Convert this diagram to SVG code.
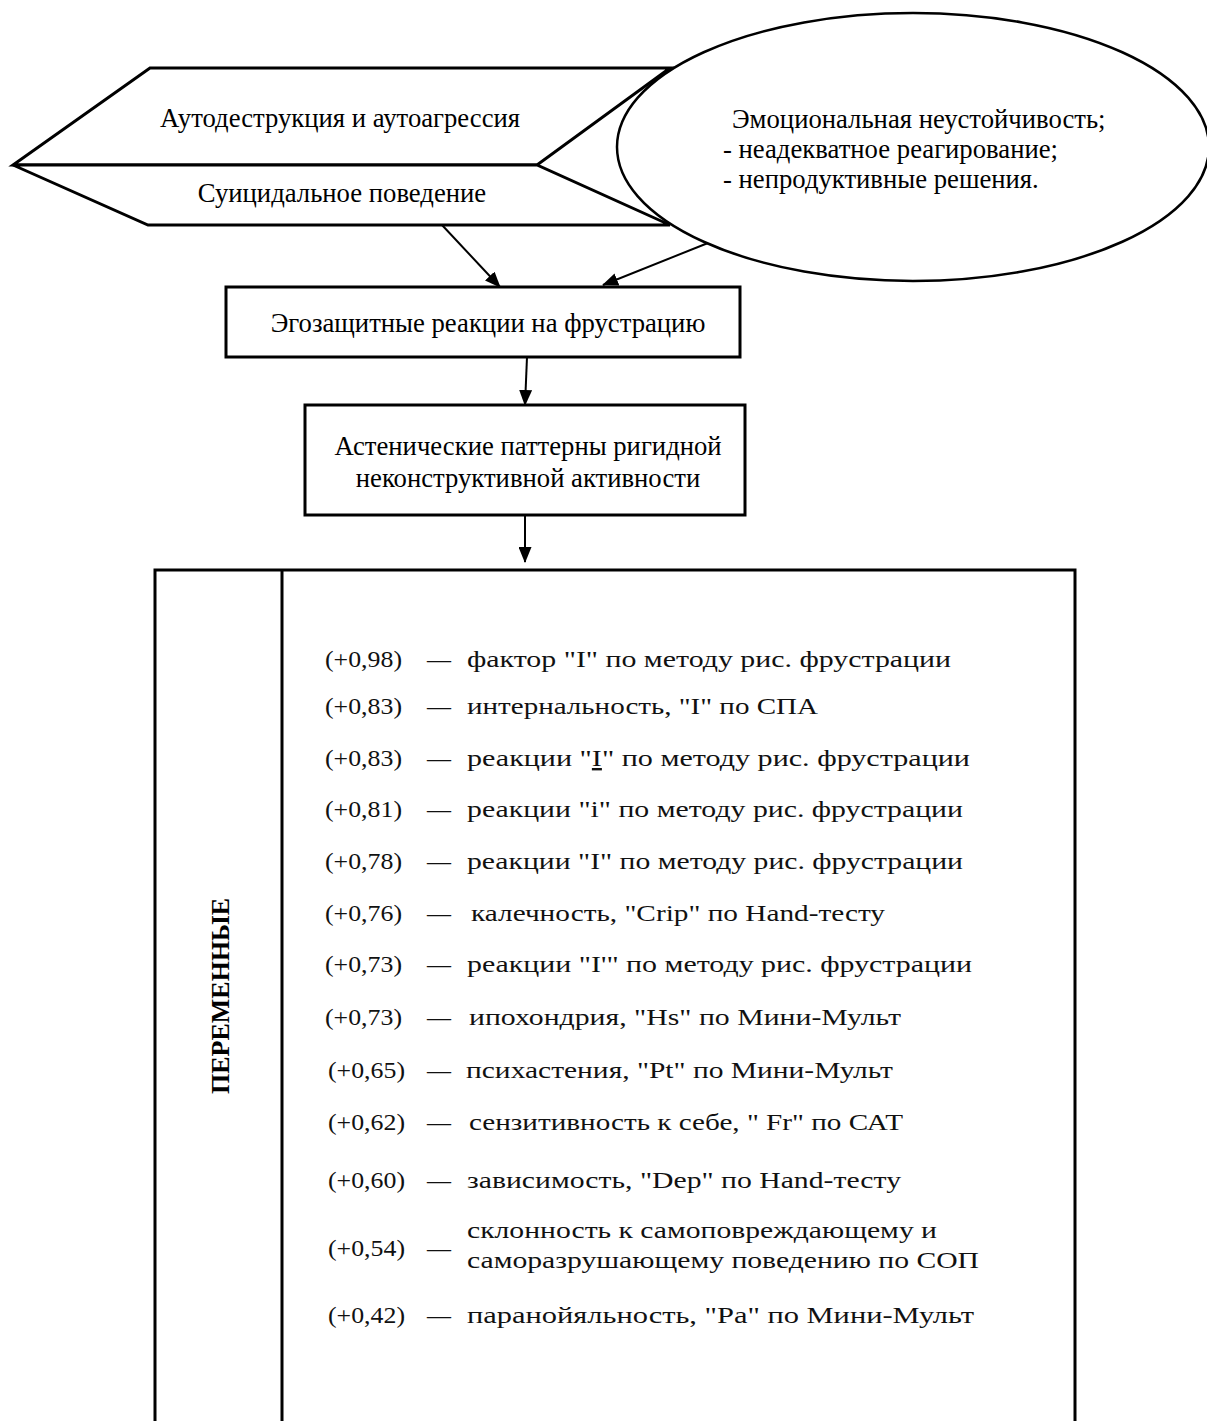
<svg xmlns="http://www.w3.org/2000/svg" width="1207" height="1421" viewBox="0 0 1207 1421">
<defs>
<marker id="ah" markerWidth="16" markerHeight="13" refX="15" refY="6.5" orient="auto" markerUnits="userSpaceOnUse"><path d="M0,0 L16,6.5 L0,13 z" fill="#000"/></marker>
</defs>
<style>
.shape{fill:#fff;stroke:#000;stroke-width:3;stroke-linejoin:miter}
.ell{fill:#fff;stroke:#000;stroke-width:2.5}
.t{font-family:"Liberation Serif","Times New Roman",serif;font-size:26.7px;fill:#000}
.c{text-anchor:middle}
.l{font-family:"Liberation Serif","Times New Roman",serif;font-size:24px;fill:#111}
.conn{stroke:#000;stroke-width:2;fill:none}
.v{font-family:"Liberation Serif","Times New Roman",serif;font-size:26px;font-weight:bold;fill:#000;text-anchor:middle}
</style>
<rect width="1207" height="1421" fill="#fff"/>
<g id="node-autodestr">
<polygon class="shape" points="150,68 670,68 537,165 13,165"/>
<text class="t c" x="340" y="127">Аутодеструкция и аутоагрессия</text>
</g>
<g id="node-suicide">
<polygon class="shape" points="13,165 537,165 670,225 148,225"/>
<text class="t c" x="342" y="202">Суицидальное поведение</text>
</g>
<g id="node-emotion">
<ellipse class="ell" cx="913" cy="147" rx="296" ry="134"/>
<text class="t" x="732" y="128">Эмоциональная неустойчивость;</text>
<text class="t" x="723" y="158">- неадекватное реагирование;</text>
<text class="t" x="723" y="188">- непродуктивные решения.</text>
</g>
<g id="connectors">
<path class="conn" d="M442,225 L500,287" marker-end="url(#ah)"/>
<path class="conn" d="M708,243 L603,285" marker-end="url(#ah)"/>
<path class="conn" d="M527,357 L525,405" marker-end="url(#ah)"/>
<path class="conn" d="M525,515 L525,562" marker-end="url(#ah)"/>
</g>
<g id="node-ego">
<rect class="shape" x="226" y="287" width="514" height="70"/>
<text class="t c" x="488" y="332">Эгозащитные реакции на фрустрацию</text>
</g>
<g id="node-asthenic">
<rect class="shape" x="305" y="405" width="440" height="110"/>
<text class="t c" x="528" y="455">Астенические паттерны ригидной</text>
<text class="t c" x="528" y="487">неконструктивной активности</text>
</g>
<g id="node-variables">
<rect class="shape" x="155" y="570" width="920" height="880"/>
<line x1="282" y1="570" x2="282" y2="1450" stroke="#000" stroke-width="3"/>
<text class="v" transform="translate(229,996) rotate(-90)">ПЕРЕМЕННЫЕ</text>
<g class="l">
<text x="325" y="667" textLength="77" lengthAdjust="spacingAndGlyphs">(+0,98)</text><text x="427" y="667">—</text><text x="467" y="667" textLength="484" lengthAdjust="spacingAndGlyphs">фактор "I" по методу рис. фрустрации</text>
<text x="325" y="714" textLength="77" lengthAdjust="spacingAndGlyphs">(+0,83)</text><text x="427" y="714">—</text><text x="467" y="714" textLength="351" lengthAdjust="spacingAndGlyphs">интернальность, "I" по СПА</text>
<text x="325" y="766" textLength="77" lengthAdjust="spacingAndGlyphs">(+0,83)</text><text x="427" y="766">—</text><text x="467" y="766" textLength="503" lengthAdjust="spacingAndGlyphs">реакции "<tspan text-decoration="underline">I</tspan>" по методу рис. фрустрации</text>
<text x="325" y="817" textLength="77" lengthAdjust="spacingAndGlyphs">(+0,81)</text><text x="427" y="817">—</text><text x="467" y="817" textLength="496" lengthAdjust="spacingAndGlyphs">реакции "i" по методу рис. фрустрации</text>
<text x="325" y="869" textLength="77" lengthAdjust="spacingAndGlyphs">(+0,78)</text><text x="427" y="869">—</text><text x="467" y="869" textLength="496" lengthAdjust="spacingAndGlyphs">реакции "I" по методу рис. фрустрации</text>
<text x="325" y="921" textLength="77" lengthAdjust="spacingAndGlyphs">(+0,76)</text><text x="427" y="921">—</text><text x="471" y="921" textLength="414" lengthAdjust="spacingAndGlyphs">калечность, "Crip" по Hand-тесту</text>
<text x="325" y="972" textLength="77" lengthAdjust="spacingAndGlyphs">(+0,73)</text><text x="427" y="972">—</text><text x="467" y="972" textLength="505" lengthAdjust="spacingAndGlyphs">реакции "I'" по методу рис. фрустрации</text>
<text x="325" y="1025" textLength="77" lengthAdjust="spacingAndGlyphs">(+0,73)</text><text x="427" y="1025">—</text><text x="469" y="1025" textLength="432" lengthAdjust="spacingAndGlyphs">ипохондрия, "Hs" по Мини-Мульт</text>
<text x="328" y="1078" textLength="77" lengthAdjust="spacingAndGlyphs">(+0,65)</text><text x="427" y="1078">—</text><text x="466" y="1078" textLength="427" lengthAdjust="spacingAndGlyphs">психастения, "Pt" по Мини-Мульт</text>
<text x="328" y="1130" textLength="77" lengthAdjust="spacingAndGlyphs">(+0,62)</text><text x="427" y="1130">—</text><text x="469" y="1130" textLength="434" lengthAdjust="spacingAndGlyphs">сензитивность к себе, " Fr" по САТ</text>
<text x="328" y="1188" textLength="77" lengthAdjust="spacingAndGlyphs">(+0,60)</text><text x="427" y="1188">—</text><text x="467" y="1188" textLength="434" lengthAdjust="spacingAndGlyphs">зависимость, "Dep" по Hand-тесту</text>
<text x="328" y="1256" textLength="77" lengthAdjust="spacingAndGlyphs">(+0,54)</text><text x="427" y="1256">—</text><text x="467" y="1238" textLength="470" lengthAdjust="spacingAndGlyphs">склонность к самоповреждающему и</text><text x="467" y="1268" textLength="512" lengthAdjust="spacingAndGlyphs">саморазрушающему поведению по СОП</text>
<text x="328" y="1323" textLength="77" lengthAdjust="spacingAndGlyphs">(+0,42)</text><text x="427" y="1323">—</text><text x="467" y="1323" textLength="507" lengthAdjust="spacingAndGlyphs">паранойяльность, "Pa" по Мини-Мульт</text>
</g>
</g>
</svg>
